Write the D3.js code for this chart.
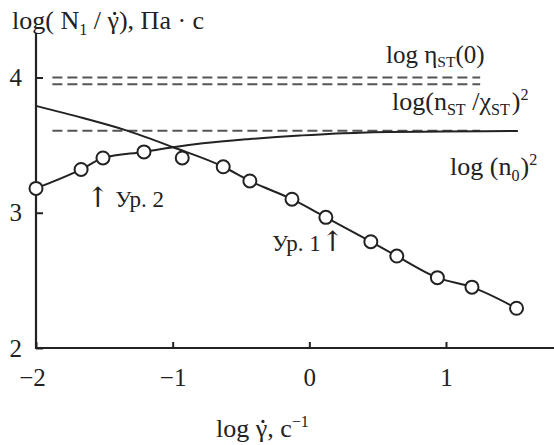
<!DOCTYPE html>
<html>
<head>
<meta charset="utf-8">
<script src="https://cdn.jsdelivr.net/npm/d3@7"></script>
<style>
  html, body { margin: 0; padding: 0; background: #fff; }
  svg { display: block; }
  text { font-family: "Liberation Serif", "Times New Roman", serif; fill: #222; }
</style>
</head>
<body>
<svg id="chart" width="554" height="445"></svg>
<script>
// Measured points: log shear rate vs log(N1 / shear rate)
const pointX = [-2.0, -1.67, -1.51, -1.21, -0.93, -0.63, -0.435, -0.127, 0.121, 0.45, 0.64, 0.937, 1.19, 1.516];
const pointY = [3.18, 3.32, 3.405, 3.45, 3.405, 3.34, 3.235, 3.10, 2.966, 2.786, 2.68, 2.52, 2.45, 2.294];

// Model curve, equation 1 (high-rate branch)
const eq1X = [-2.0, -1.656, -1.334, -0.996, -0.63, -0.435, -0.127, 0.121, 0.45, 0.64, 0.937, 1.19, 1.516];
const eq1Y = [3.79, 3.70, 3.607, 3.484, 3.34, 3.235, 3.10, 2.966, 2.786, 2.68, 2.52, 2.45, 2.294];

// Model curve, equation 2 (low-rate branch)
const eq2X = [-2.0, -1.67, -1.51, -1.21, -0.996, -0.779, -0.435, -0.069, 0.37, 1.526];
const eq2Y = [3.18, 3.32, 3.405, 3.45, 3.484, 3.513, 3.545, 3.571, 3.592, 3.604];

// Limiting levels (dashed)
const levelY = [4.0, 3.95, 3.607];
const levelStart = -1.88;
const levelEnd = 1.25;

const xTicks = [-2, -1, 0, 1];
const yTicks = [2, 3, 4];

const svg = d3.select("#chart");
const x = d3.scaleLinear().domain([-2, 1]).range([36, 446]);
const y = d3.scaleLinear().domain([2, 4]).range([348, 77.5]);

const ink = "#222";

// Axes
const xAxis = svg.append("g").attr("transform", `translate(0,${y(2)})`)
  .call(d3.axisBottom(x).tickValues(xTicks).tickSizeInner(-6).tickSizeOuter(0).tickPadding(20)
    .tickFormat(d => d < 0 ? "\u2212" + Math.abs(d) : String(d)));
xAxis.select(".domain").remove();
xAxis.selectAll("line").attr("stroke", ink).attr("stroke-width", 2);
xAxis.selectAll("text").attr("font-size", 25).attr("fill", ink)
  .attr("font-family", "Liberation Serif, serif");
xAxis.selectAll(".tick").filter(d => d === -2).select("text").attr("dx", -4);

const yAxis = svg.append("g").attr("transform", `translate(${x(-2)},0)`)
  .call(d3.axisLeft(y).tickValues(yTicks).tickSizeInner(-7).tickSizeOuter(0).tickPadding(14)
    .tickFormat(d3.format("d")));
yAxis.select(".domain").remove();
yAxis.selectAll("line").attr("stroke", ink).attr("stroke-width", 2);
yAxis.selectAll("text").attr("font-size", 25).attr("fill", ink)
  .attr("font-family", "Liberation Serif, serif");

// Axis lines
svg.append("line").attr("x1", x(-2)).attr("x2", 554).attr("y1", y(2)).attr("y2", y(2))
  .attr("stroke", ink).attr("stroke-width", 2.2);
svg.append("line").attr("x1", x(-2)).attr("x2", x(-2)).attr("y1", 33).attr("y2", y(2) + 1)
  .attr("stroke", ink).attr("stroke-width", 2.2);

// Dashed levels
svg.append("g").selectAll("line").data(levelY).join("line")
  .attr("x1", x(levelStart)).attr("x2", x(levelEnd))
  .attr("y1", d => y(d)).attr("y2", d => y(d))
  .attr("stroke", "#555").attr("stroke-width", 2).attr("stroke-dasharray", "10,5");

const line = d3.line().x(d => x(d[0])).y(d => y(d[1])).curve(d3.curveMonotoneX);
const eq1 = eq1X.map((v, i) => [v, eq1Y[i]]);
const eq2 = eq2X.map((v, i) => [v, eq2Y[i]]);
svg.append("path").attr("d", line(eq1)).attr("fill", "none").attr("stroke", ink).attr("stroke-width", 2);
svg.append("path").attr("d", line(eq2)).attr("fill", "none").attr("stroke", ink).attr("stroke-width", 2);

// Measured points
svg.append("g").selectAll("circle").data(pointX.map((v, i) => [v, pointY[i]])).join("circle")
  .attr("cx", d => x(d[0])).attr("cy", d => y(d[1])).attr("r", 6.5)
  .attr("fill", "#fff").attr("stroke", ink).attr("stroke-width", 2);

// Text helpers
function label(xp, yp, parts, size, anchor) {
  const t = svg.append("text").attr("x", xp).attr("y", yp).attr("font-size", size)
    .attr("text-anchor", anchor || "start");
  parts.forEach(p => {
    const s = t.append("tspan").text(p.t);
    if (p.sub) s.attr("font-size", size * 0.62).attr("dy", p.dy != null ? p.dy : 5);
    else if (p.sup) s.attr("font-size", size * 0.62).attr("dy", p.dy != null ? p.dy : -10);
    else if (p.dy != null) s.attr("dy", p.dy);
    if (p.dx != null) s.attr("dx", p.dx);
    if (p.font) s.attr("font-family", p.font);
    if (p.size) s.attr("font-size", p.size);
  });
  return t;
}

// Draws the time-derivative dot above the character at position idx
function dotAbove(textSel, idx, size) {
  const node = textSel.node();
  const a = node.getStartPositionOfChar(idx);
  const b = node.getEndPositionOfChar(idx);
  svg.append("circle").attr("cx", (a.x + b.x) / 2 + 1.5).attr("cy", a.y - size * 0.6)
    .attr("r", 1.6).attr("fill", ink);
}

// Y-axis title
const yTitle = label(12, 29, [
  { t: "log( N" }, { t: "1", sub: true, dy: 6 }, { t: " / \u03B3), \u041F\u0430 \u00B7 \u0441", dy: -6 }
], 26);
dotAbove(yTitle, "log( N1 / ".length, 26);

// X-axis title
const xTitle = label(216, 437, [
  { t: "log \u03B3, \u0441" }, { t: "\u22121", sup: true, dy: -10 }
], 26);
dotAbove(xTitle, 4, 26);

// Level labels
label(386, 63, [
  { t: "log \u03B7" }, { t: "ST", sub: true, dy: 4 }, { t: "(0)", dy: -4 }
], 25);
label(392, 110, [
  { t: "log(n" }, { t: "ST", sub: true, dy: 5 }, { t: " /\u03C7", dy: -5 }, { t: "ST", sub: true, dy: 5 },
  { t: ")", dy: -5, dx: 2 }, { t: "2", sup: true, dy: -10 }
], 26);
label(450, 175, [
  { t: "log (n" }, { t: "0", sub: true, dy: 6 }, { t: ")", dy: -6, dx: 1 }, { t: "2", sup: true, dy: -10 }
], 26);

// Curve annotations
label(86, 207, [{ t: "\u2191", size: 28, font: "DejaVu Serif" }, { t: " \u0423\u0440. 2" }], 23);
label(272, 251, [{ t: "\u0423\u0440. 1" }, { t: "\u2191", size: 28, font: "DejaVu Serif" }], 23);
</script>
</body>
</html>
